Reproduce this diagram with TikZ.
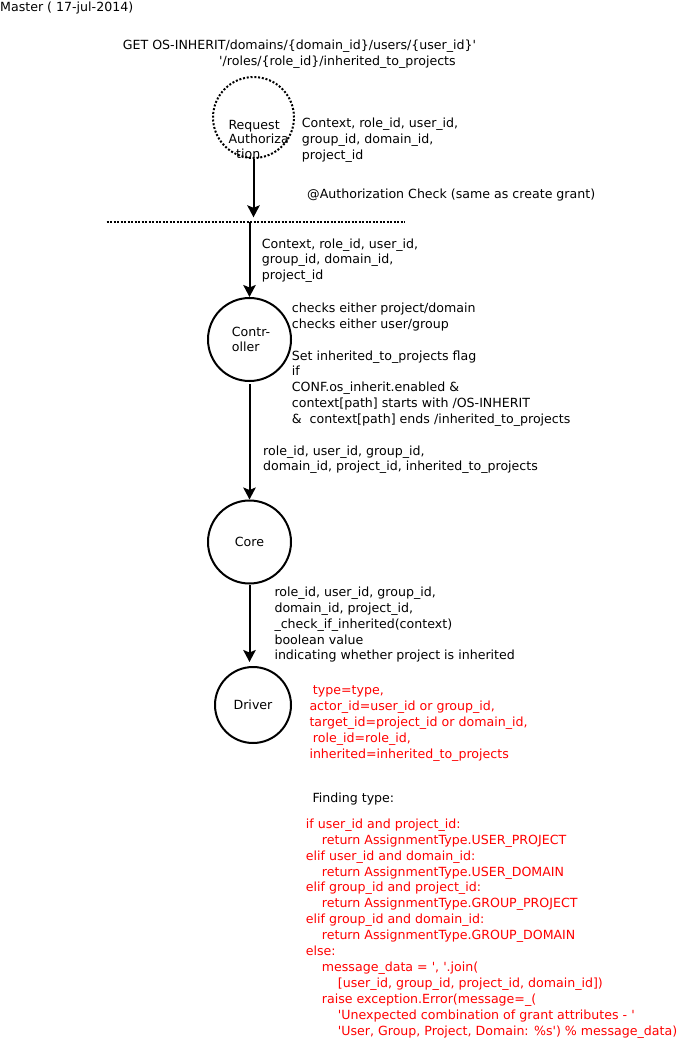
\documentclass[tikz,border=0pt]{standalone}
\usepackage{fontspec}
\newfontfamily\dejavu{DejaVu Sans}
\usetikzlibrary{arrows.meta}

\tikzset{
    txt/.style = {anchor = base west, inner sep = 0, align = left},
    codetxt/.style = {txt, text = red},
    unit/.style = {circle, draw, line width = 2pt, inner sep = 0, align = left},
    flow/.style = {-{Stealth[length = 12pt, width = 12.5pt, inset = 2.5pt]}, line width = 2pt},
    dotline/.style = {line width = 2pt, dash pattern = on 2pt off 1.5pt}
}

\begin{document}
\begin{tikzpicture}[x = 1pt, y = -1pt, font = \dejavu\fontsize{12.6}{15.8}\selectfont]
        \useasboundingbox (0, 0) rectangle (681, 1038);
        % multi-line texts sit on the baseline of their last line

        %%title
        \node[txt] (master) at (0, 11.7){Master ( 17-jul-2014)};

        %%request
        \node[txt] (get1) at (122.7, 50){GET OS-INHERIT/domains/\{domain\_id\}/users/\{user\_id\}'};
        \node[txt] (get2) at (219, 65.3){'/roles/\{role\_id\}/inherited\_to\_projects};
        \node[unit, dash pattern = on 2pt off 1.8pt, minimum size = 81pt] (req) at (253.5, 117.5){};
        \node[txt, font = \dejavu\fontsize{12.6}{14.5}\selectfont] (reqtxt) at (228.3, 158.3){Request\\Authoriza\\\hspace*{7.7pt}tion};
        \node[txt] (ctx1) at (301.7, 159.5){Context, role\_id, user\_id,\\group\_id, domain\_id,\\project\_id};
        \node[txt] (auth) at (307, 198.3){@Authorization Check (same as create grant)};

        %%check line
        \coordinate (dl) at (106.7, 222.3);
        \coordinate (dr) at (405, 222.3);
            \draw[dotline] (dl) to (dr);
            \draw[flow, shorten > = 5pt] (req.south) to (req.south |- dl);

        %%controller
        \node[unit, minimum size = 83pt, font = \dejavu\fontsize{12.6}{15}\selectfont] (ctrl) at (249.5, 339.5){\hspace*{3pt}Contr-\\\hspace*{3pt}oller};
            \draw[flow] (ctrl.north |- dl) to (ctrl.north);
        \node[txt] (ctx2) at (261.7, 279.6){Context, role\_id, user\_id,\\group\_id, domain\_id,\\project\_id};
        \node[txt] (checks) at (291.7, 423.3){checks either project/domain\\checks either user/group\\~\\Set inherited\_to\_projects flag\\if\\CONF.os\_inherit.enabled \&\\context[path] starts with /OS-INHERIT\\\&\ \ context[path] ends /inherited\_to\_projects};

        %%core
        \node[unit, minimum size = 83pt] (core) at (249.5, 542){Core};
            \draw[flow, shorten < = 2pt] (ctrl.south) to (core.north);
        \node[txt] (pass) at (263, 470.8){role\_id, user\_id, group\_id,\\domain\_id, project\_id, inherited\_to\_projects};

        %%driver
        \node[unit, minimum size = 76pt] (drv) at (253, 705){Driver};
            \draw[flow, shorten > = 4pt] (core.south) to (core.south |- drv.north);
        \node[txt] (inh) at (274.3, 659.9){role\_id, user\_id, group\_id,\\domain\_id, project\_id,\\\_check\_if\_inherited(context)\\boolean value\\indicating whether project is inherited};
        \node[codetxt] (args) at (309.3, 758){\hspace*{3.4pt}type=type,\\actor\_id=user\_id or group\_id,\\target\_id=project\_id or domain\_id,\\\hspace*{3.4pt}role\_id=role\_id,\\inherited=inherited\_to\_projects};

        %%finding type
        \node[txt] (find) at (312.3, 802.3){Finding type:};
        \node[codetxt, font = \dejavu\fontsize{12.6}{15.9}\selectfont] (code) at (305.7, 1035){if user\_id and project\_id:\\
            \hspace*{16pt}return AssignmentType.USER\_PROJECT\\
            elif user\_id and domain\_id:\\
            \hspace*{16pt}return AssignmentType.USER\_DOMAIN\\
            elif group\_id and project\_id:\\
            \hspace*{16pt}return AssignmentType.GROUP\_PROJECT\\
            elif group\_id and domain\_id:\\
            \hspace*{16pt}return AssignmentType.GROUP\_DOMAIN\\
            else:\\
            \hspace*{16pt}message\_data = ', '.join(\\
            \hspace*{32pt}[user\_id, group\_id, project\_id, domain\_id])\\
            \hspace*{16pt}raise exception.Error(message=\_(\\
            \hspace*{32pt}'Unexpected combination of grant attributes - '\\
            \hspace*{32pt}'User, Group, Project, Domain: \%s') \% message\_data)};

    \end{tikzpicture}
\end{document}
